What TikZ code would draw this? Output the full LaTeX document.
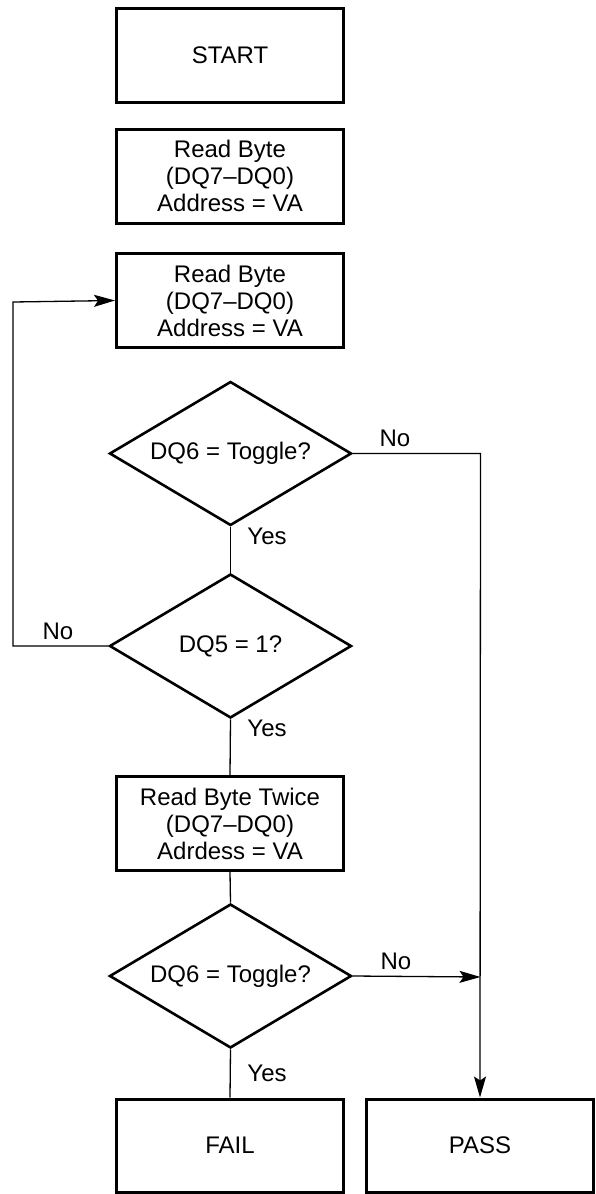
\documentclass[tikz,border=0pt]{standalone}
\usepackage{fontspec}
\setmainfont{Liberation Sans}
\usetikzlibrary{shapes.geometric,arrows.meta}
\begin{document}
\begin{tikzpicture}[x=1pt,y=-1pt,
  every node/.style={font=\fontsize{24}{27}\selectfont},
  box/.style={draw,line width=3pt,minimum width=227pt,minimum height=94pt,inner sep=0pt,align=center},
  dec/.style={draw,diamond,line width=2.6pt,minimum width=242pt,minimum height=144pt,inner sep=0pt,aspect=1.68},
  conn/.style={line width=1.3pt},
  arr/.style={conn,-{Stealth[length=21pt,width=12pt,inset=4pt]}},
  lbl/.style={inner sep=0pt}]
\useasboundingbox (0,0) rectangle (596,1194);
\node[box] (start) at (230,55) {START};
\node[box] (rb1) at (230,176) {Read Byte\\(DQ7--DQ0)\\Address = VA};
\node[box] (rb2) at (230,300.5) {Read Byte\\(DQ7--DQ0)\\Address = VA};
\node[dec] (d1) at (230.5,453.5) {DQ6 = Toggle?};
\node[dec] (d2) at (230.5,646) {DQ5 = 1?};
\node[box] (rbt) at (230,823.5) {Read Byte Twice\\(DQ7--DQ0)\\Adrdess = VA};
\node[dec] (d3) at (230.5,976) {DQ6 = Toggle?};
\node[box,minimum height=93pt] (fail) at (230,1145.5) {FAIL};
\node[box,minimum height=93pt] (pass) at (480,1145.5) {PASS};
\coordinate (cr) at (480.5,453.5);
\coordinate (cm) at (480.5,977);
\coordinate (ll) at (13,646);
\coordinate (lt) at (13,302);
\draw[conn] (d1.south) -- (d2.north);
\draw[conn] (d2.south) -- (rbt.north);
\draw[conn] (rbt.south) -- (d3.north);
\draw[conn] (d3.south) -- (fail.north);
\draw[arr] (d1.east) -- (cr) -- (pass.north);
\draw[arr] (d3.east) -- (cm);
\draw[arr] (d2.west) -- (ll) -- (lt) -- (rb2.west);
\node[lbl] (n1) at (395,438) {No};
\node[lbl] (y1) at (267,536) {Yes};
\node[lbl] (n2) at (58,631) {No};
\node[lbl] (y2) at (267,728) {Yes};
\node[lbl] (n3) at (396,961) {No};
\node[lbl] (y3) at (267,1073) {Yes};
\end{tikzpicture}
\end{document}
